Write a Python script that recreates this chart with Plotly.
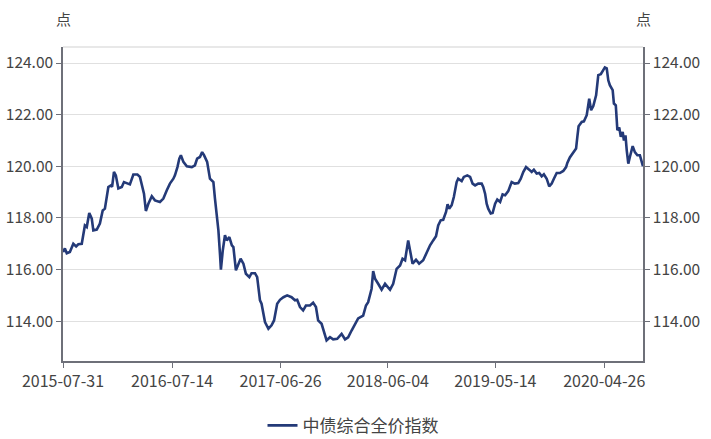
import pandas as pd
import plotly.graph_objects as go

# Day offsets from 2015-07-31 (category dates) and index values (点)
start_date = "2015-07-31"
day_offsets = [
    0, 6, 12, 22, 33, 42, 49, 60, 70, 76, 84, 92, 97, 108, 118, 127, 134, 145, 153, 157,
    163, 169, 177, 188, 195, 204, 214, 225, 238, 246, 255, 259, 265, 273, 284, 294, 310, 321, 332, 342,
    353, 358, 366, 372, 377, 385, 396, 412, 422, 429, 438, 445, 451, 456, 461, 470, 481, 486, 492, 497,
    502, 505, 511, 518, 524, 532, 540, 545, 553, 561, 568, 577, 585, 596, 603, 614, 621, 630, 635, 646,
    657, 667, 675, 685, 694, 705, 717, 731, 742, 749, 758, 768, 777, 790, 800, 809, 816, 827, 835, 843,
    854, 864, 877, 891, 902, 912, 923, 934, 944, 960, 969, 976, 982, 987, 992, 998, 1008, 1019, 1030, 1037,
    1046, 1056, 1067, 1078, 1086, 1094, 1104, 1110, 1118, 1129, 1139, 1152, 1163, 1174, 1184, 1193, 1200, 1208, 1216, 1225,
    1230, 1235, 1243, 1250, 1259, 1264, 1275, 1282, 1293, 1302, 1310, 1318, 1328, 1339, 1344, 1350, 1355, 1360, 1368, 1374,
    1382, 1389, 1398, 1406, 1414, 1424, 1435, 1445, 1456, 1464, 1472, 1481, 1491, 1499, 1506, 1515, 1523, 1531, 1538, 1547,
    1555, 1563, 1570, 1579, 1589, 1600, 1609, 1613, 1621, 1632, 1641, 1645, 1649, 1659, 1666, 1675, 1683, 1689, 1696, 1705,
    1712, 1720, 1726, 1733, 1739, 1744, 1749, 1758, 1762, 1768, 1773, 1779, 1784, 1790, 1794, 1799, 1803, 1808, 1813, 1822,
    1829, 1837, 1845, 1850, 1855,
]
index_values = [
    116.68, 116.82, 116.63, 116.68, 117.00, 116.90, 116.98, 117.00, 117.71, 117.65, 118.19, 117.97, 117.52, 117.55, 117.78, 118.29, 118.36, 119.20, 119.26, 119.20,
    119.78, 119.65, 119.14, 119.20, 119.39, 119.35, 119.30, 119.68, 119.68, 119.59, 119.10, 118.94, 118.27, 118.55, 118.84, 118.68, 118.62, 118.75, 119.07, 119.33,
    119.52, 119.65, 119.97, 120.30, 120.43, 120.17, 120.00, 119.97, 120.04, 120.30, 120.36, 120.55, 120.43, 120.30, 120.17, 119.52, 119.39, 118.75, 118.04, 117.52,
    116.62, 116.00, 116.74, 117.33, 117.13, 117.26, 116.94, 116.87, 115.97, 116.23, 116.42, 116.23, 115.84, 115.71, 115.86, 115.86, 115.71, 114.81, 114.68, 113.97,
    113.71, 113.84, 114.03, 114.68, 114.83, 114.93, 115.00, 114.93, 114.81, 114.83, 114.55, 114.42, 114.61, 114.61, 114.72, 114.55, 114.03, 113.90, 113.58, 113.26,
    113.38, 113.30, 113.32, 113.51, 113.30, 113.38, 113.64, 113.87, 114.11, 114.22, 114.61, 114.74, 115.07, 115.26, 115.94, 115.65, 115.45, 115.22, 115.45, 115.35,
    115.22, 115.45, 116.03, 116.16, 116.42, 116.36, 117.13, 116.74, 116.23, 116.38, 116.23, 116.36, 116.68, 116.94, 117.13, 117.29, 117.71, 117.91, 117.93, 118.23,
    118.53, 118.36, 118.49, 118.81, 119.39, 119.52, 119.43, 119.59, 119.65, 119.59, 119.33, 119.26, 119.33, 119.33, 119.20, 118.94, 118.55, 118.36, 118.17, 118.19,
    118.55, 118.71, 118.62, 118.91, 118.88, 119.04, 119.39, 119.33, 119.35, 119.52, 119.78, 119.97, 119.87, 119.78, 119.87, 119.72, 119.74, 119.61, 119.69, 119.52,
    119.22, 119.33, 119.52, 119.74, 119.74, 119.82, 119.97, 120.13, 120.34, 120.55, 120.69, 121.14, 121.55, 121.72, 121.74, 121.98, 122.62, 122.17, 122.33, 122.75,
    123.53, 123.57, 123.72, 123.83, 123.79, 123.33, 123.14, 122.95, 122.43, 122.36, 121.40, 121.50, 121.14, 121.33, 121.00, 121.20, 120.62, 120.10, 120.36, 120.78,
    120.55, 120.43, 120.43, 120.23, 120.00,
]
x_tick_labels = ["2015-07-31", "2016-07-14", "2017-06-26", "2018-06-04", "2019-05-14", "2020-04-26"]
y_tick_values = [114, 116, 118, 120, 122, 124]
series_name = "中债综合全价指数"
unit_label = "点"

dates = pd.to_datetime(start_date) + pd.to_timedelta(day_offsets, unit="D")

FONT = "Microsoft YaHei, Noto Sans CJK SC, sans-serif"
LINE_COLOR = "#243a78"
AXIS_COLOR = "#6e7079"
TEXT_COLOR = "#444444"
GRID_COLOR = "#e0e0e0"
TICK_SIZE = 15.5

W, H = 711, 439
M_L, M_R, M_T, M_B = 63, 68, 47, 78

fig = go.Figure()
fig.add_trace(go.Scatter(
    x=dates, y=index_values, mode="lines", name=series_name,
    line=dict(color=LINE_COLOR, width=2.6),
))
fig.add_trace(go.Scatter(
    x=dates, y=index_values, mode="lines", yaxis="y2", showlegend=False,
    hoverinfo="skip", line=dict(color="rgba(0,0,0,0)", width=0),
))

yrange = [112.46, 124.62]
common_y = dict(
    range=yrange, tickvals=y_tick_values, tickformat=".2f",
    showline=True, linecolor=AXIS_COLOR, linewidth=1.5,
    ticks="outside", ticklen=5, tickcolor=AXIS_COLOR,
    tickfont=dict(size=TICK_SIZE, color=TEXT_COLOR, family=FONT),
    zeroline=False, automargin=False,
)

fig.update_layout(
    width=W, height=H,
    margin=dict(l=M_L, r=M_R, t=M_T, b=M_B, autoexpand=False),
    paper_bgcolor="white", plot_bgcolor="white",
    font=dict(family=FONT, color=TEXT_COLOR),
    xaxis=dict(
        type="date",
        range=[dates[0], dates[-1]],
        tickvals=pd.to_datetime(x_tick_labels), ticktext=x_tick_labels,
        showline=True, linecolor=AXIS_COLOR, linewidth=1.5,
        ticks="outside", ticklen=5, tickcolor=AXIS_COLOR,
        tickfont=dict(size=16, color=TEXT_COLOR, family=FONT),
        showgrid=False, zeroline=False, automargin=False,
    ),
    yaxis=dict(**common_y, side="left", showgrid=True, gridcolor=GRID_COLOR, gridwidth=1),
    yaxis2=dict(**common_y, side="right", overlaying="y", showgrid=False),
    legend=dict(
        orientation="h", x=0.5, xanchor="center",
        yref="container", y=0.03, yanchor="middle",
        font=dict(size=17, color=TEXT_COLOR, family=FONT),
    ),
    showlegend=True,
    shapes=[dict(type="line", xref="paper", yref="paper", x0=0, x1=1, y0=1, y1=1,
                 line=dict(color=GRID_COLOR, width=1.5))],
    annotations=[
        dict(text=unit_label, xref="paper", yref="paper", x=0, y=1, xanchor="center",
             yanchor="bottom", yshift=16, showarrow=False,
             font=dict(size=15, color=TEXT_COLOR, family=FONT)),
        dict(text=unit_label, xref="paper", yref="paper", x=1, y=1, xanchor="center",
             yanchor="bottom", yshift=16, showarrow=False,
             font=dict(size=15, color=TEXT_COLOR, family=FONT)),
    ],
)

fig.write_html(
    "out.html",
    config={"displayModeBar": False},
    post_script="document.body.style.margin='0';document.body.style.overflow='hidden';",
)
